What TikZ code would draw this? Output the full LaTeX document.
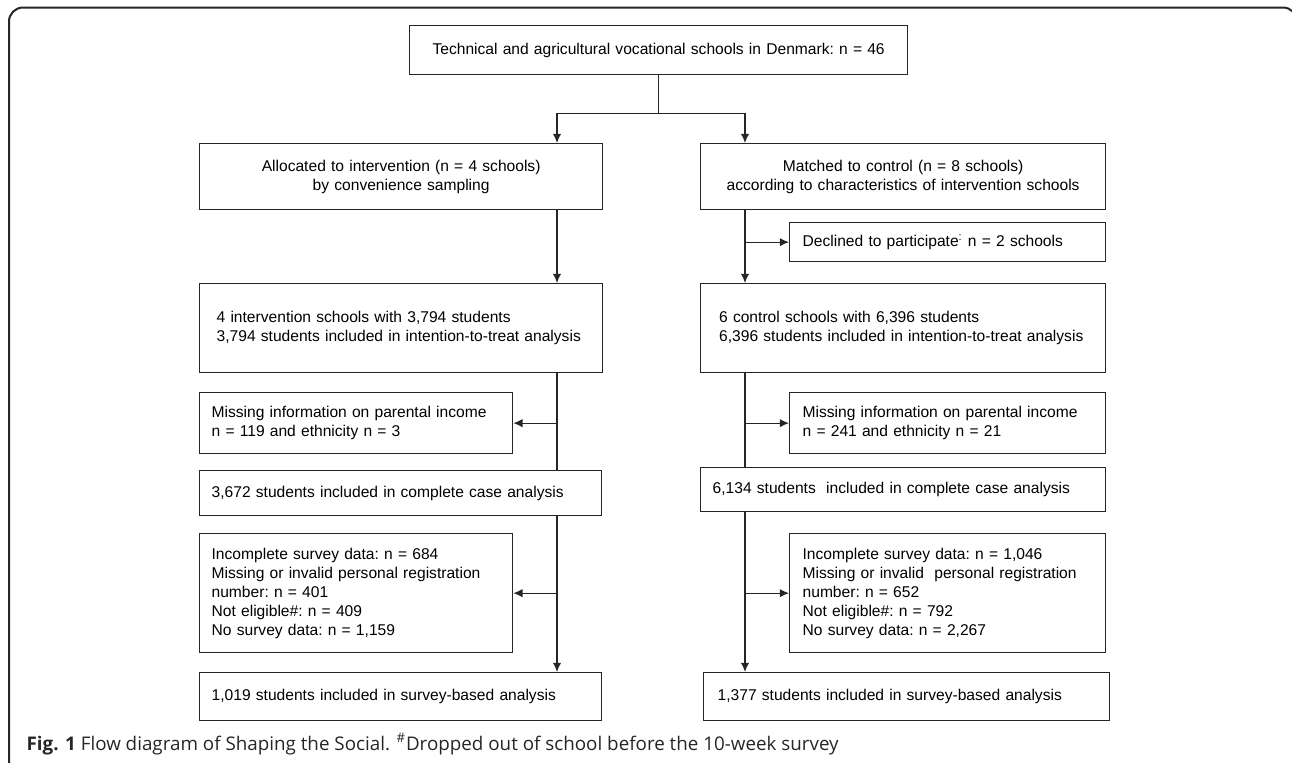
\documentclass[tikz,border=0pt]{standalone}
\usepackage{fontspec}
\setmainfont{Liberation Sans}
\newfontfamily\capfont{Open Sans}
\usepackage{tikz}
\usetikzlibrary{positioning,shapes,arrows,arrows.meta}

\begin{document}
\begin{tikzpicture}[
  x=0.5pt, y=-0.5pt,
  line width=0.65pt, draw=black!85,
  arr/.style={-{Latex[length=4.6pt,width=4.2pt]}},
  mybox/.style={draw=black!85,rectangle,anchor=north west,inner ysep=0pt,
    font={\fontsize{7.8}{9.5}\selectfont\frenchspacing}},
  midbox/.style={mybox,align=center,inner xsep=2pt},
  leftbox/.style={mybox,align=left}
    ]
\useasboundingbox (0,0) rectangle (1292,762);
\begin{scope}
\clip (0,0) rectangle (1292,762);
\draw[line width=1pt,black!85,rounded corners=7pt] (9,800) -- (9,7.5) -- (1297,7.5) -- (1297,800);
\end{scope}

\node[midbox,text width=245pt,minimum height=24.5pt] (top) at (409,25) {Technical and agricultural vocational schools in Denmark: n = 46};
\node[midbox,text width=197.5pt,minimum height=33pt] (alloc) at (199,143) {Allocated to intervention (n = 4 schools)\\by convenience sampling};
\node[midbox,text width=198.5pt,minimum height=33pt] (match) at (700,143) {Matched to control (n = 8 schools)\\according to characteristics of intervention schools};
\node[leftbox,inner xsep=6.5pt,text width=145pt,minimum height=19.5pt] (decl) at (789,222) {Declined to participate\textsuperscript{:} n = 2 schools};
\node[leftbox,inner xsep=8.5pt,text width=184.5pt,minimum height=44.5pt] (interv) at (199,283) {4 intervention schools with 3,794 students\\3,794 students included in intention-to-treat analysis};
\node[leftbox,inner xsep=9.25pt,text width=184pt,minimum height=44.5pt] (contr) at (700,283) {6 control schools with 6,396 students\\6,396 students included in intention-to-treat analysis};
\node[leftbox,inner xsep=6pt,text width=144.5pt,minimum height=30.5pt] (missL) at (199,392) {Missing information on parental income\\n = 119 and ethnicity n = 3};
\node[leftbox,inner xsep=6.5pt,text width=145pt,minimum height=30.5pt] (missR) at (789,392) {Missing information on parental income\\n = 241 and ethnicity n = 21};
\node[leftbox,inner xsep=6pt,text width=189pt,minimum height=22.5pt] (caseL) at (199,470) {3,672 students included in complete case analysis};
\node[leftbox,inner xsep=6pt,text width=190.5pt,minimum height=22pt] (caseR) at (700,467) {6,134 students~ included in complete case analysis};
\node[leftbox,inner xsep=6pt,text width=144.5pt,minimum height=59.5pt] (incL) at (199,533) {Incomplete survey data: n = 684\\Missing or invalid personal registration\\number: n = 401\\Not eligible\#: n = 409\\No survey data: n = 1,159};
\node[leftbox,inner xsep=6.5pt,text width=145pt,minimum height=59.5pt] (incR) at (789,533) {Incomplete survey data: n = 1,046\\Missing or invalid~ personal registration\\number: n = 652\\Not eligible\#: n = 792\\No survey data: n = 2,267};
\node[leftbox,inner xsep=6pt,text width=189pt,minimum height=24pt] (survL) at (199,672) {1,019 students included in survey-based analysis};
\node[leftbox,inner xsep=7pt,text width=189pt,minimum height=24pt] (survR) at (703,672) {1,377 students included in survey-based analysis};

\path (top.south) ++(0,38) coordinate (split);
\coordinate (lx) at (557,0);
\coordinate (rx) at (745,0);

\draw (top.south) -- (split);
\draw[arr] (split) -| (alloc.north -| lx);
\draw[arr] (split) -| (match.north -| rx);
\path (alloc.south -| lx) edge[arr] (interv.north -| lx)
(interv.south -| lx) edge (caseL.north -| lx)
(missL.east -| lx) edge[arr] (missL.east)
(caseL.south -| lx) edge[arr] (survL.north -| lx)
(incL.east -| lx) edge[arr] (incL.east)
(match.south -| rx) edge[arr] (contr.north -| rx)
(decl.west -| rx) edge[arr] (decl.west)
(contr.south -| rx) edge (caseR.north -| rx)
(missR.west -| rx) edge[arr] (missR.west)
(caseR.south -| rx) edge[arr] (survR.north -| rx)
(incR.west -| rx) edge[arr] (incR.west);

\node[anchor=base west,inner sep=0pt,text=black!85,font={\capfont\fontsize{9.4}{11}\selectfont}] (cap) at (26,750) {\textbf{Fig. 1} Flow diagram of Shaping the Social. \textsuperscript{\#}Dropped out of school before the 10-week survey};

\end{tikzpicture}
\end{document}
